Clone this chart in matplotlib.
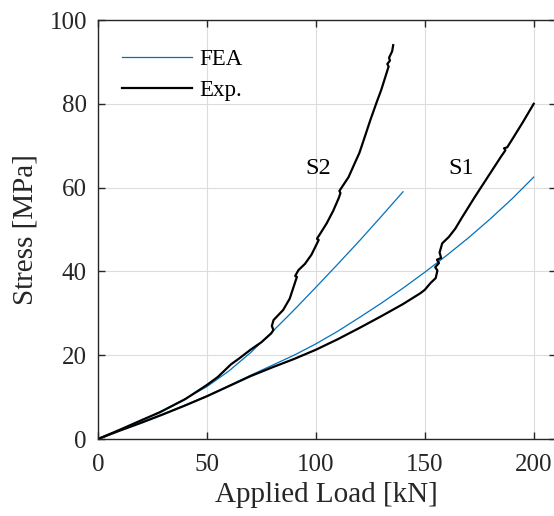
import matplotlib
matplotlib.use("Agg")
import matplotlib.pyplot as plt

# ---- data -------------------------------------------------------------------
# FEA curves (smooth)
fea_s1_load = [0, 10, 20, 30, 40, 50, 60, 70, 80, 90, 100, 110, 120, 130, 140, 150,
               160, 170, 180, 190, 200]
fea_s1_stress = [0, 2.0, 4.0, 6.0, 8.1, 10.3, 12.7, 15.2, 17.6, 20.0, 22.7, 25.7, 29.0,
                 32.4, 36.0, 39.8, 43.8, 48.0, 52.5, 57.3, 62.5]

fea_s2_load = [0, 10, 20, 30, 40, 50, 60, 70, 80, 90, 100, 110, 120, 130, 140]
fea_s2_stress = [0, 2.1, 4.4, 6.9, 9.6, 12.5, 16.2, 20.6, 25.6, 30.8, 36.2, 41.7, 47.3,
                 53.1, 59.0]

# Experimental curves (with the small jumps)
exp_s1_load = [0, 10, 20, 30, 40, 50, 60, 70, 80, 90, 100, 110, 120, 130, 140, 148,
               150, 152.6, 155, 155.8, 154.8, 156.5, 155.6, 157.5, 156.8, 158,
               161, 164, 167, 170, 173, 177, 181, 185, 187, 186.4, 187.8, 190, 195, 200]
exp_s1_stress = [0, 2.0, 3.9, 5.9, 8.0, 10.2, 12.6, 15.0, 17.1, 19.1, 21.3, 23.8, 26.5,
                 29.3, 32.2, 34.8, 35.6, 37.2, 38.4, 40.2, 41.0, 42.0, 42.8, 43.2, 44.5,
                 46.7, 48.2, 50.2, 52.8, 55.3, 57.8, 61.0, 64.2, 67.4, 68.9, 69.4, 69.6,
                 71.4, 75.6, 80.0]

exp_s2_load = [0, 10, 20, 28.5, 40, 50, 55, 60, 61, 65, 70, 75, 79.5, 80.5, 79.8, 80.6,
               85, 88, 91.3, 90.5, 92, 95, 98, 101.3, 100.5, 102, 105, 108, 110.5, 111.3,
               110.8, 115, 118, 120, 122, 125, 128, 130, 133.4, 132.8, 134, 133.6, 135,
               135.5]
exp_s2_stress = [0, 2.2, 4.5, 6.4, 9.5, 12.9, 14.8, 17.3, 17.8, 19.3, 21.3, 23.1, 25.2,
                 26.0, 27.0, 28.4, 30.8, 33.5, 38.7, 38.9, 40.3, 41.8, 44.0, 47.5, 47.8,
                 49.0, 51.5, 54.5, 57.5, 58.7, 59.2, 62.5, 66.0, 68.3, 71.4, 76.1, 80.5,
                 83.3, 88.9, 89.5, 90.3, 91.0, 92.5, 94.0]

label_text = ["S2", "S1"]
label_x = [101, 166.5]
label_y = [64.5, 64.5]

# ---- style ----------------------------------------------------------------------
plt.rcParams["font.family"] = ["Liberation Serif", "DejaVu Serif"]
ink = "#262626"
blue = "#0072BD"

fig = plt.figure(figsize=(5.54, 5.16), dpi=100)
ax = fig.add_axes([98 / 554, 77 / 516, (555.5 - 98) / 554, (439 - 20) / 516])

ax.plot(fea_s1_load, fea_s1_stress, color=blue, lw=0.9, label="FEA")
ax.plot(exp_s1_load, exp_s1_stress, color="black", lw=1.6, label="Exp.")
ax.plot(fea_s2_load, fea_s2_stress, color=blue, lw=0.9)
ax.plot(exp_s2_load, exp_s2_stress, color="black", lw=1.6)

for t, x, y in zip(label_text, label_x, label_y):
    ax.text(x, y, t, fontsize=17.5, color="black", ha="center", va="center")

ax.set_xlim(0, 210)
ax.set_ylim(0, 100)
ax.set_xticks([0, 50, 100, 150, 200])
ax.set_yticks([0, 20, 40, 60, 80, 100])
ax.grid(True, color="#dcdcdc", lw=0.8)
ax.set_axisbelow(True)
ax.tick_params(direction="in", length=5, width=1, colors=ink, labelsize=18,
               top=True, right=True)
ax.tick_params(axis="x", pad=11)
ax.tick_params(axis="y", pad=8)
for s in ax.spines.values():
    s.set_color(ink)
    s.set_linewidth(1.0)

ax.set_xlabel("Applied Load [kN]", fontsize=21, color=ink, labelpad=4)
ax.set_ylabel("Stress [MPa]", fontsize=21, color=ink, labelpad=8)

leg = ax.legend(loc="upper left", frameon=False, fontsize=16.5, handlelength=3.05,
                bbox_to_anchor=(0.033, 0.952), borderaxespad=0, labelspacing=0.4,
                handletextpad=0.3)

fig.savefig("out.png", dpi=100)
